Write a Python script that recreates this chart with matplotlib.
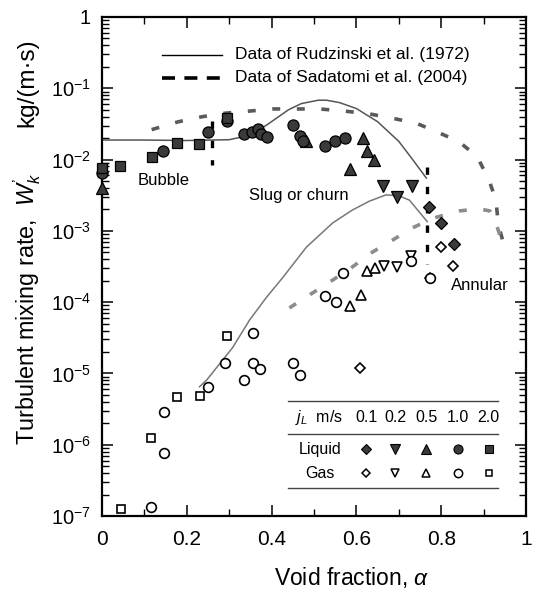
import matplotlib
matplotlib.use("Agg")
import matplotlib.pyplot as plt
import numpy as np

plt.rcParams['font.family'] = ['Liberation Sans', 'DejaVu Sans']
plt.rcParams['mathtext.fontset'] = 'custom'
plt.rcParams['mathtext.rm'] = 'Liberation Sans'
plt.rcParams['mathtext.it'] = 'Liberation Sans:italic'
plt.rcParams['mathtext.default'] = 'regular'

# ---------------- data ----------------
# Liquid (filled) data, by j_L
liq01_x = [0.772, 0.800, 0.830]
liq01_y = [2.19e-3, 1.29e-3, 6.6e-4]
liq02_x = [0.663, 0.696, 0.732]
liq02_y = [4.2e-3, 3.0e-3, 4.2e-3]
liq05_x = [0.0, 0.480, 0.584, 0.615, 0.624, 0.642]
liq05_y = [4.0e-3, 1.8e-2, 7.4e-3, 2.0e-2, 1.3e-2, 9.8e-3]
liq10_x = [0.0, 0.144, 0.250, 0.294, 0.334, 0.353, 0.367, 0.374, 0.388, 0.450, 0.466, 0.474, 0.527, 0.550, 0.572]
liq10_y = [6.5e-3, 1.3e-2, 2.45e-2, 3.5e-2, 2.3e-2, 2.45e-2, 2.7e-2, 2.3e-2, 2.1e-2, 3.1e-2, 2.15e-2, 1.85e-2, 1.55e-2, 1.85e-2, 2.0e-2]
liq20_x = [0.0, 0.042, 0.118, 0.176, 0.228, 0.294]
liq20_y = [7.6e-3, 8.1e-3, 1.1e-2, 1.7e-2, 1.65e-2, 3.8e-2]

# Gas (open) data, by j_L
gas01_x = [0.609, 0.774, 0.800, 0.828]
gas01_y = [1.2e-5, 2.2e-4, 6.0e-4, 3.2e-4]
gas02_x = [0.666, 0.696, 0.729]
gas02_y = [3.2e-4, 3.1e-4, 4.4e-4]
gas05_x = [0.584, 0.612, 0.624, 0.645]
gas05_y = [8.9e-5, 1.26e-4, 2.75e-4, 3.0e-4]
gas10_x = [0.115, 0.146, 0.146, 0.250, 0.289, 0.334, 0.355, 0.355, 0.372, 0.450, 0.468, 0.527, 0.552, 0.569, 0.729, 0.774]
gas10_y = [1.35e-7, 7.6e-7, 2.9e-6, 6.5e-6, 1.4e-5, 8.1e-6, 3.7e-5, 1.4e-5, 1.15e-5, 1.4e-5, 9.5e-6, 1.23e-4, 1.0e-4, 2.57e-4, 3.8e-4, 2.2e-4]
gas20_x = [0.045, 0.115, 0.177, 0.230, 0.294]
gas20_y = [1.26e-7, 1.26e-6, 4.6e-6, 4.8e-6, 3.4e-5]

# Rudzinski et al. (1972) curves
rud_liq_x = [0.0, 0.1, 0.2, 0.3, 0.35, 0.39, 0.44, 0.47, 0.51, 0.53, 0.56, 0.60, 0.65, 0.70, 0.73, 0.765]
rud_liq_y = [0.0188, 0.0188, 0.0185, 0.019, 0.022, 0.031, 0.050, 0.061, 0.068, 0.068, 0.063, 0.052, 0.034, 0.018, 0.0105, 0.0055]
rud_gas_x = [0.230, 0.247, 0.308, 0.348, 0.388, 0.426, 0.482, 0.544, 0.590, 0.630, 0.670, 0.700, 0.725, 0.767]
rud_gas_y = [6.5e-6, 8.1e-6, 2.3e-5, 5.6e-5, 1.17e-4, 2.2e-4, 5.9e-4, 1.29e-3, 1.95e-3, 2.6e-3, 3.2e-3, 3.1e-3, 2.7e-3, 1.35e-3]

# Sadatomi et al. (2004) curves
sad_liq_x = [0.117, 0.18, 0.235, 0.29, 0.348, 0.403, 0.459, 0.513, 0.572, 0.631, 0.685, 0.741, 0.79, 0.842, 0.885, 0.913, 0.929, 0.935, 0.95]
sad_liq_y = [0.0263, 0.0339, 0.0398, 0.0447, 0.0479, 0.0513, 0.0513, 0.0513, 0.0479, 0.0437, 0.038, 0.0324, 0.0245, 0.0178, 0.011, 0.0051, 0.0027, 0.0012, 5.8e-4]
sad_gas_x = [0.442, 0.497, 0.544, 0.590, 0.637, 0.685, 0.732, 0.780, 0.842, 0.889, 0.915, 0.929, 0.948]
sad_gas_y = [8.3e-5, 1.35e-4, 2.04e-4, 3.1e-4, 5.0e-4, 7.4e-4, 1.1e-3, 1.5e-3, 1.9e-3, 2.04e-3, 1.9e-3, 1.29e-3, 5.8e-4]

# flow-regime boundaries
bound1_x = [0.259, 0.259]
bound1_y = [0.035, 0.0085]
bound2_x = [0.766, 0.766]
bound2_y = [7.9e-3, 3.4e-4]

jl_labels = ['0.1', '0.2', '0.5', '1.0', '2.0']
markers = ['D', 'v', '^', 'o', 's']
xticks = [0, 0.2, 0.4, 0.6, 0.8, 1.0]
xticklabels = ['0', '0.2', '0.4', '0.6', '0.8', '1']
yticks = [1e-7, 1e-6, 1e-5, 1e-4, 1e-3, 1e-2, 1e-1, 1]
yticklabels = [r'$10^{-7}$', r'$10^{-6}$', r'$10^{-5}$', r'$10^{-4}$', r'$10^{-3}$', r'$10^{-2}$', r'$10^{-1}$', '1']

# ---------------- figure ----------------
W, H = 534, 589
fig = plt.figure(figsize=(W / 100, H / 100), dpi=100)
ax = fig.add_axes([102 / W, 1 - 516 / H, 424 / W, 499 / H])
ax.set_xlim(0, 1)
ax.set_ylim(1e-7, 1)
ax.set_yscale('log')

fill = '#3a3a3a'
# curves
ax.plot(rud_liq_x, rud_liq_y, color='#555555', lw=1.1, zorder=2)
ax.plot(rud_gas_x, rud_gas_y, color='#777777', lw=1.1, zorder=2)
ax.plot(sad_liq_x, sad_liq_y, color='#5a5a5a', lw=2.6, dashes=(2.2, 4.6), zorder=2)
ax.plot(sad_gas_x, sad_gas_y, color='#8c8c8c', lw=2.6, dashes=(2.2, 4.6), zorder=2)
ax.plot(bound1_x, bound1_y, color='black', lw=2.4, dashes=(2.2, 3.6), zorder=2)
ax.plot(bound2_x, bound2_y, color='black', lw=2.4, dashes=(2.2, 3.6), zorder=2)

liq = [(liq01_x, liq01_y), (liq02_x, liq02_y), (liq05_x, liq05_y), (liq10_x, liq10_y), (liq20_x, liq20_y)]
gas = [(gas01_x, gas01_y), (gas02_x, gas02_y), (gas05_x, gas05_y), (gas10_x, gas10_y), (gas20_x, gas20_y)]
msz = {'D': 6.5, 'v': 8, '^': 8, 'o': 8, 's': 7}
for (xs, ys), m in zip(liq, markers):
    ax.plot(xs, ys, ls='none', marker=m, ms=msz[m], mfc=fill, mec='black', mew=0.9, zorder=4, clip_on=False)
for (xs, ys), m in zip(gas, markers):
    ax.plot(xs, ys, ls='none', marker=m, ms=msz[m] - 1, mfc='white', mec='black', mew=1.2, zorder=4, clip_on=False)

# regime labels
ax.text(0.085, 10 ** -2.29, 'Bubble', fontsize=12, va='center', ha='left')
ax.text(0.346, 10 ** -2.50, 'Slug or churn', fontsize=12, va='center', ha='left')
ax.text(0.823, 10 ** -3.76, 'Annular', fontsize=12, va='center', ha='left')

# top legend
T = ax.transAxes
ax.plot([0.1415, 0.283], [0.924, 0.924], color='black', lw=1.0, transform=T)
ax.plot([0.1415, 0.283], [0.878, 0.878], color='black', lw=2.6, dashes=(3.6, 2.6), transform=T)
ax.text(0.314, 0.924, 'Data of Rudzinski et al. (1972)', fontsize=12.5, va='center', ha='left', transform=T)
ax.text(0.314, 0.878, 'Data of Sadatomi et al. (2004)', fontsize=12.5, va='center', ha='left', transform=T)

# table legend
for yl in [0.2305, 0.1643, 0.0561]:
    ax.plot([0.439, 0.934], [yl, yl], color='#444444', lw=1.0, transform=T)
colx = [0.623, 0.691, 0.765, 0.840, 0.912]
ax.text(0.512, 0.197, r'$\mathit{j}_{\mathit{L}}$  m/s', fontsize=11.5, ha='center', va='center', transform=T)
for cx, lab, m in zip(colx, jl_labels, markers):
    ax.text(cx, 0.197, lab, fontsize=11.5, ha='center', va='center', transform=T)
    ax.plot([cx], [0.134], ls='none', marker=m, ms=msz[m] - 1.5, mfc=fill, mec='black', mew=0.8, transform=T)
    ax.plot([cx], [0.086], ls='none', marker=m, ms=msz[m] - 2, mfc='white', mec='black', mew=1.1, transform=T)
ax.text(0.514, 0.134, 'Liquid', fontsize=11.5, ha='center', va='center', transform=T)
ax.text(0.514, 0.086, 'Gas', fontsize=11.5, ha='center', va='center', transform=T)

# axes styling
for s in ax.spines.values():
    s.set_linewidth(1.6)
ax.set_xticks(xticks)
ax.set_xticklabels(xticklabels)
ax.set_xticks(np.arange(0.1, 1.0, 0.2), minor=True)
ax.set_yticks(yticks)
ax.set_yticklabels(yticklabels)
ax.yaxis.set_minor_locator(matplotlib.ticker.LogLocator(base=10, subs=np.arange(2, 10), numticks=20))
ax.yaxis.set_minor_formatter(matplotlib.ticker.NullFormatter())
ax.tick_params(which='both', direction='in', top=True, right=True)
ax.tick_params(which='major', length=8, width=1.1)
ax.tick_params(which='minor', length=5, width=1.0)
ax.tick_params(axis='x', which='major', labelsize=15, pad=10)
ax.tick_params(axis='y', which='major', labelsize=14.5, pad=8)

narrow = ['Liberation Sans Narrow', 'Liberation Sans', 'DejaVu Sans']
fig.text(352 / W, 1 - 578 / H, r'Void fraction, $\mathit{\alpha}$', fontsize=16.5, ha='center', va='center')
fig.text(27 / W, 1 - 309 / H, r"Turbulent mixing rate,  $\mathit{W}^{’}_{\mathit{k}}$", fontsize=16.8,
         family=narrow, rotation=90, ha='center', va='center')
fig.text(27 / W, 1 - 83 / H, 'kg/(m·s)', fontsize=17.5, family=narrow, rotation=90, ha='center', va='center')

fig.savefig('out.png', dpi=100)
